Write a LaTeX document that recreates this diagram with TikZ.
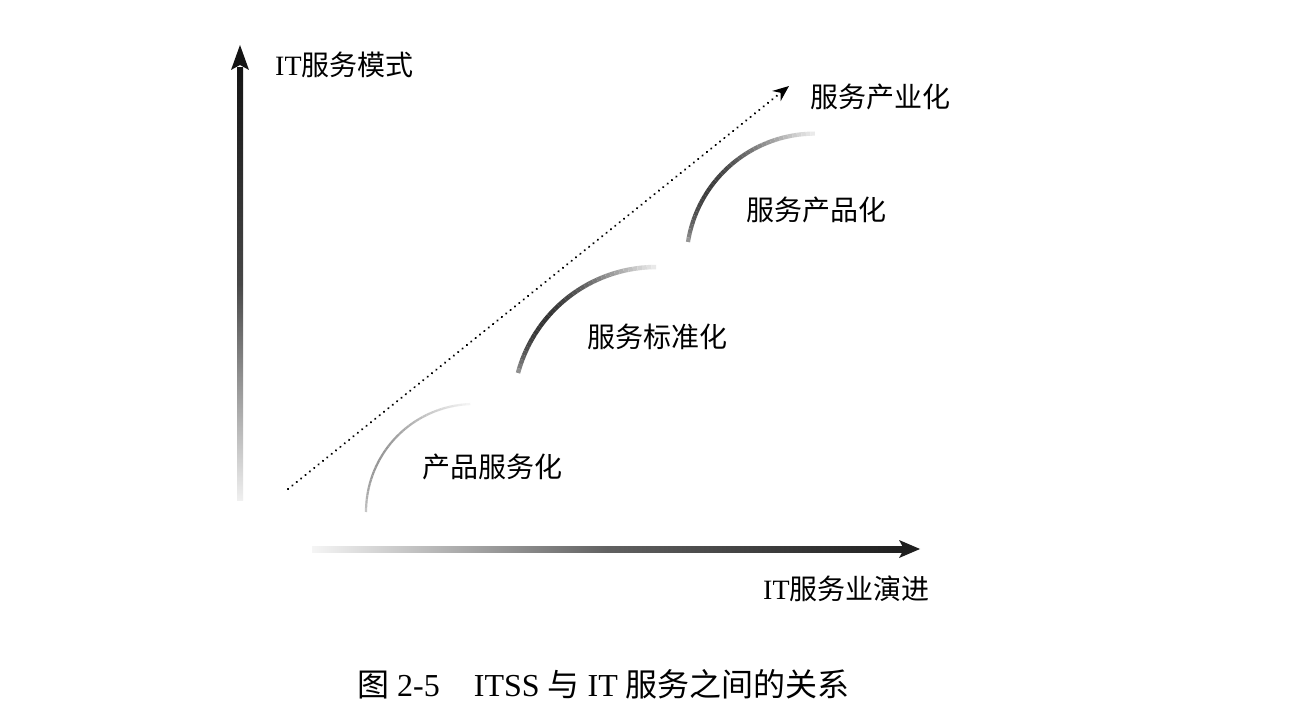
\documentclass[tikz,border=0pt]{standalone}
\usepackage{fontspec}
\setmainfont{Liberation Serif}
\newfontfamily\cjk{Noto Sans CJK SC}
\usetikzlibrary{calc,arrows.meta}
\newcommand\myarc[7]{%
  \foreach \i in {0,...,39}{%
    \pgfmathsetmacro\myA{#3+(#4-#3)*\i/40}%
    \pgfmathsetmacro\myB{#3+(#4-#3)*(\i+1)/40}%
    \pgfmathsetmacro\myT{(\i+0.5)/40}%
    \pgfmathsetmacro\myC{#6*(0.45+0.55*sin(180*\myT^0.7))*(1-0.8*\myT^3)}%
    \draw[line width=#7, color=black!\myC, line cap=butt]
      ($(#1,-#2)+(#3+180:#5)$) ++(\myA:#5) arc[start angle=\myA, end angle=\myB, radius=#5];
  }}
\begin{document}
\begin{tikzpicture}[x=1pt,y=1pt,
  lbl/.style={anchor=west,inner sep=0pt,font=\fontsize{28}{30}\selectfont},
  caplbl/.style={anchor=west,inner sep=0pt,font=\fontsize{32}{34}\selectfont},
  dotarrow/.style={line width=2.3, dash pattern=on 0.1pt off 5.5pt, line cap=round, -{Stealth[length=16,width=13,line cap=butt]}}]
\useasboundingbox[fill=white] (0,0) rectangle (1290,-727);
% vertical axis
\coordinate (vbot) at (240,-500);
\coordinate (vtop) at (240,-45);
\shade[top color=black!92, bottom color=black!6, middle color=black!72] (237,-500) rectangle (243,-68);
\fill[black!92] (vtop) -- (231,-70) -- (240,-65) -- (249,-70) -- cycle;
% horizontal axis
\coordinate (hleft) at (312,-549);
\coordinate (hright) at (920,-549);
\shade[left color=black!4, right color=black!88, middle color=black!62] (312,-546) rectangle (904,-552);
\fill[black!88] (hright) -- (899,-540) -- (904,-549) -- (899,-558) -- cycle;
% dotted arrow
\coordinate (dstart) at (288,-489);
\coordinate (dend) at (789,-86);
\draw[dotarrow] (dstart) -- (dend);
% arcs
\myarc{366}{512}{180}{92}{108}{42}{2.2}
\myarc{518}{373}{165}{90}{143}{82}{4.5}
\myarc{688}{242}{171}{90}{128.5}{78}{4.2}
% labels
\node[lbl] (ym) at (275,-65) {IT{\cjk 服务模式}};
\node[lbl] (l4) at (810,-97) {\cjk 服务产业化};
\node[lbl] (l3) at (746,-210) {\cjk 服务产品化};
\node[lbl] (l2) at (587,-337) {\cjk 服务标准化};
\node[lbl] (l1) at (422,-467) {\cjk 产品服务化};
\node[lbl] (xl) at (763,-589) {IT{\cjk 服务业演进}};
\node[caplbl] (cap) at (357,-684) {{\cjk 图} 2-5\hspace{34pt}ITSS {\cjk 与} IT {\cjk 服务之间的关系}};
\end{tikzpicture}
\end{document}
